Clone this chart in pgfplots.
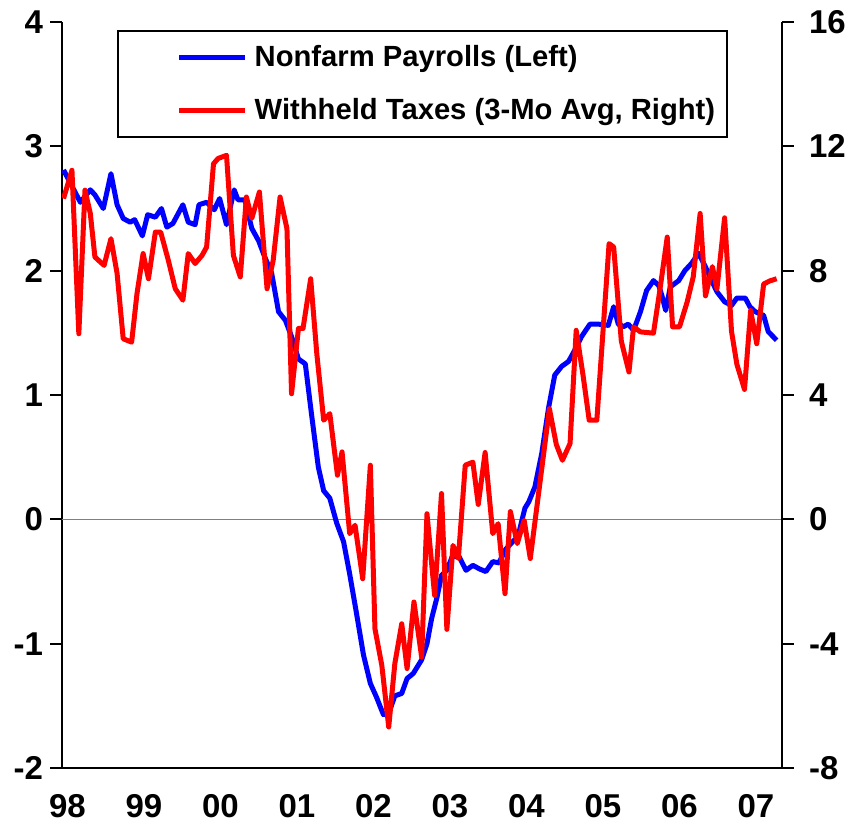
\documentclass[border=0pt]{standalone}
\usepackage{fontspec}
\setmainfont{Liberation Sans}
\usepackage{pgfplots}
\pgfplotsset{compat=1.18}
\usepackage{pgfplotstable}

\pgfplotstableread{
x y
1998.02 2.81
1998.24 2.55
1998.37 2.65
1998.43 2.61
1998.54 2.50
1998.64 2.78
1998.72 2.53
1998.80 2.42
1998.89 2.39
1998.95 2.41
1999.05 2.28
1999.12 2.45
1999.22 2.43
1999.30 2.50
1999.37 2.35
1999.45 2.38
1999.58 2.53
1999.65 2.39
1999.74 2.37
1999.79 2.53
1999.89 2.55
1999.99 2.49
2000.06 2.58
2000.15 2.37
2000.25 2.65
2000.30 2.57
2000.39 2.57
2000.48 2.34
2000.57 2.24
2000.65 2.11
2000.74 1.98
2000.83 1.67
2000.92 1.60
2001.00 1.47
2001.09 1.29
2001.18 1.25
2001.26 0.85
2001.35 0.42
2001.42 0.23
2001.50 0.17
2001.59 -0.03
2001.68 -0.18
2001.76 -0.44
2001.85 -0.76
2001.94 -1.09
2002.03 -1.32
2002.11 -1.43
2002.20 -1.57
2002.27 -1.56
2002.35 -1.42
2002.44 -1.40
2002.51 -1.28
2002.59 -1.24
2002.70 -1.13
2002.77 -1.00
2002.83 -0.80
2002.90 -0.63
2002.96 -0.45
2003.03 -0.41
2003.10 -0.30
2003.19 -0.30
2003.28 -0.41
2003.37 -0.37
2003.46 -0.40
2003.54 -0.42
2003.63 -0.34
2003.71 -0.35
2003.80 -0.24
2003.89 -0.18
2003.96 -0.14
2003.99 -0.06
2004.05 0.09
2004.10 0.14
2004.18 0.26
2004.27 0.53
2004.36 0.90
2004.44 1.16
2004.53 1.23
2004.62 1.27
2004.71 1.37
2004.79 1.47
2004.90 1.57
2005.01 1.57
2005.14 1.56
2005.21 1.71
2005.27 1.57
2005.34 1.55
2005.40 1.57
2005.47 1.52
2005.56 1.67
2005.64 1.84
2005.73 1.92
2005.80 1.88
2005.84 1.80
2005.89 1.68
2005.95 1.87
2006.06 1.92
2006.14 2.00
2006.23 2.06
2006.32 2.14
2006.41 2.03
2006.49 1.92
2006.56 1.83
2006.66 1.75
2006.75 1.72
2006.82 1.78
2006.93 1.78
2006.99 1.71
2007.06 1.67
2007.17 1.64
2007.23 1.51
2007.34 1.44
}\payrolls

\pgfplotstableread{
x y
1998.02 10.32
1998.13 11.23
1998.22 5.97
1998.30 10.59
1998.37 9.84
1998.43 8.44
1998.55 8.17
1998.64 9.03
1998.72 7.91
1998.80 5.81
1998.91 5.70
1998.98 7.26
1999.06 8.55
1999.13 7.74
1999.22 9.24
1999.29 9.24
1999.39 8.33
1999.48 7.42
1999.58 7.05
1999.65 8.55
1999.74 8.23
1999.83 8.49
1999.89 8.76
1999.98 11.44
2000.04 11.61
2000.15 11.71
2000.24 8.49
2000.33 7.80
2000.41 10.37
2000.48 9.68
2000.58 10.53
2000.68 7.42
2000.76 8.33
2000.85 10.37
2000.94 9.35
2001.00 4.04
2001.09 6.14
2001.15 6.14
2001.25 7.74
2001.33 5.33
2001.42 3.19
2001.50 3.40
2001.60 1.42
2001.66 2.17
2001.76 -0.46
2001.83 -0.19
2001.93 -1.91
2002.03 1.74
2002.09 -3.52
2002.18 -4.70
2002.27 -6.68
2002.35 -4.64
2002.44 -3.36
2002.51 -4.80
2002.60 -2.66
2002.70 -4.43
2002.77 0.18
2002.87 -2.45
2002.96 0.83
2003.03 -3.54
2003.11 -0.84
2003.18 -1.26
2003.27 1.74
2003.37 1.84
2003.44 0.48
2003.53 2.15
2003.63 -0.46
2003.70 -0.14
2003.79 -2.39
2003.86 0.25
2003.95 -0.78
2004.04 -0.03
2004.12 -1.26
2004.37 3.56
2004.46 2.41
2004.54 1.90
2004.64 2.44
2004.72 6.08
2004.81 4.63
2004.89 3.19
2004.99 3.19
2005.15 8.87
2005.21 8.76
2005.31 5.73
2005.41 4.74
2005.47 6.19
2005.56 6.03
2005.73 5.99
2005.81 7.31
2005.91 9.08
2005.98 6.19
2006.07 6.19
2006.17 6.99
2006.25 7.80
2006.34 9.84
2006.41 7.19
2006.50 8.13
2006.56 7.42
2006.66 9.70
2006.75 6.05
2006.82 4.99
2006.92 4.18
2007.00 6.72
2007.08 5.65
2007.17 7.57
2007.25 7.67
2007.34 7.74
}\taxes

\begin{document}
\begin{tikzpicture}
\pgfplotsset{
  every axis/.append style={
    scale only axis, width=360pt, height=373pt,
    xmin=1998, xmax=2007.41,
    axis line style={line width=1pt},
    tick style={line width=1pt, black},
    tick align=outside,
    major tick length=6pt,
    tick label style={font=\bfseries\fontsize{16.5}{18}\selectfont},
    /pgf/number format/assume math mode=true,
  }
}
\begin{axis}[
  name=ax,
  ymin=-2, ymax=4, ytick={-2,-1,0,1,2,3,4},
  axis y line*=left, axis x line*=bottom,
  xtick={1998.07,1999.07,2000.07,2001.07,2002.07,2003.07,2004.07,2005.07,2006.07,2007.07},
  xticklabels={98,99,00,01,02,03,04,05,06,07},
  x tick style={draw=none},
  xticklabel style={yshift=-3.5pt},
  legend style={
    at={(0.076,0.989)}, anchor=north west,
    draw=black, line width=1pt,
    font=\bfseries\fontsize{14.6}{16}\selectfont,
    inner xsep=4pt, inner ysep=5pt, row sep=10.5pt,
    cells={anchor=west},
  },
  legend image code/.code={\path (0pt,0pt) (60pt,0pt); \draw[#1] (25.5pt,0pt) -- (58.5pt,0pt);},
]
\addplot[gray, line width=0.75pt, forget plot] coordinates {(1998,0) (2007.41,0)};
\addplot[blue, line width=2.5pt, line join=round] table[x=x,y=y] {\payrolls};
\addlegendentry{Nonfarm Payrolls (Left)}
\addlegendimage{red, line width=2.5pt}
\addlegendentry{Withheld Taxes (3-Mo Avg, Right)\hspace{4pt}}
\end{axis}
\begin{axis}[
  ymin=-8, ymax=16, ytick={-8,-4,0,4,8,12,16},
  axis y line*=right, axis x line=none,
  yticklabel style={xshift=4pt},
]
\addplot[red, line width=2.5pt, line join=round] table[x=x,y=y] {\taxes};
\end{axis}
\pgfresetboundingbox
\path ([xshift=-31pt,yshift=-30.5pt]ax.south west) rectangle ([xshift=31.5pt,yshift=11pt]ax.north east);
\end{tikzpicture}
\end{document}
